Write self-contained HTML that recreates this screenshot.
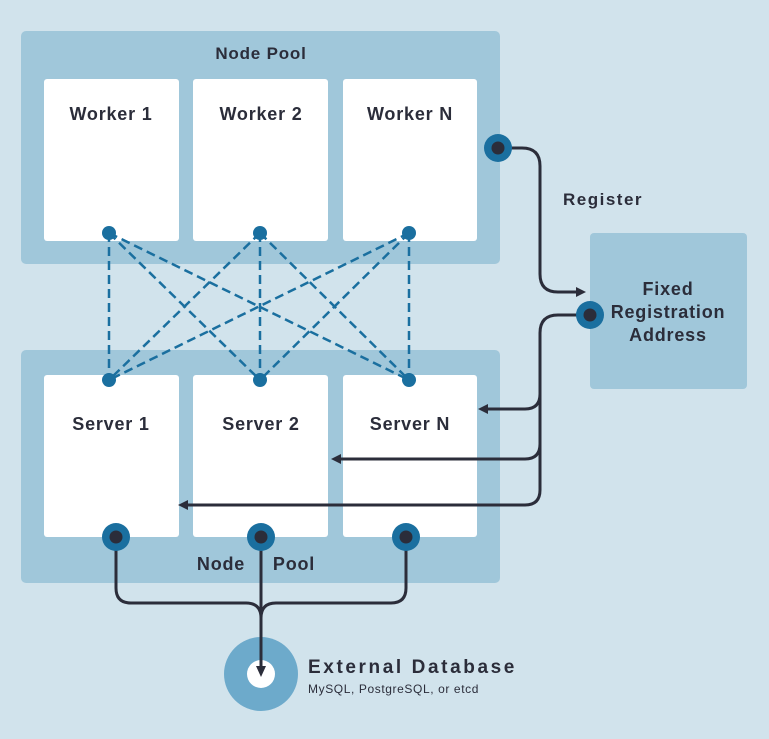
<!DOCTYPE html>
<html><head><meta charset="utf-8"><style>
html,body{margin:0;padding:0;background:#d1e3ec;}
svg{display:block}
text{font-family:"Liberation Sans",sans-serif;font-weight:bold;fill:#2b2d3a;letter-spacing:0.8px}
</style></head><body>
<svg width="769" height="739" viewBox="0 0 769 739" xmlns="http://www.w3.org/2000/svg">
<rect width="769" height="739" fill="#d1e3ec"/>
<rect x="21" y="31" width="479" height="233" rx="5" fill="#a0c7da"/>
<rect x="21" y="350" width="479" height="233" rx="5" fill="#a0c7da"/>
<rect x="590" y="233" width="157" height="156" rx="4" fill="#a0c7da"/>
<g fill="#fff">
<rect x="44" y="79" width="135" height="162" rx="3"/>
<rect x="193" y="79" width="135" height="162" rx="3"/>
<rect x="343" y="79" width="134" height="162" rx="3"/>
<rect x="44" y="375" width="135" height="162" rx="3"/>
<rect x="193" y="375" width="135" height="162" rx="3"/>
<rect x="343" y="375" width="134" height="162" rx="3"/>
</g>
<text x="261" y="59" font-size="17" text-anchor="middle">Node Pool</text>
<text x="111" y="120" font-size="18" text-anchor="middle">Worker 1</text>
<text x="261" y="120" font-size="18" text-anchor="middle">Worker 2</text>
<text x="410" y="120" font-size="18" text-anchor="middle">Worker N</text>
<text x="111" y="430" font-size="18" text-anchor="middle">Server 1</text>
<text x="261" y="430" font-size="18" text-anchor="middle">Server 2</text>
<text x="410" y="430" font-size="18" text-anchor="middle">Server N</text>
<text x="221" y="570" font-size="18" text-anchor="middle">Node</text>
<text x="294" y="570" font-size="18" text-anchor="middle">Pool</text>
<text x="603" y="205" font-size="17" text-anchor="middle" style="letter-spacing:1.5px">Register</text>
<text x="668" y="295" font-size="18" text-anchor="middle">Fixed</text>
<text x="668" y="318" font-size="18" text-anchor="middle">Registration</text>
<text x="668" y="341" font-size="18" text-anchor="middle">Address</text>
<text x="308" y="673" font-size="19" style="letter-spacing:2.6px">External Database</text>
<text x="308" y="693" font-size="12" style="font-weight:normal;letter-spacing:0.6px">MySQL, PostgreSQL, or etcd</text>
<g stroke="#1a6f9f" stroke-width="2.5" stroke-dasharray="9,5" fill="none">
<line x1="109" y1="233" x2="109" y2="380"/><line x1="109" y1="233" x2="260" y2="380"/><line x1="109" y1="233" x2="409" y2="380"/>
<line x1="260" y1="233" x2="109" y2="380"/><line x1="260" y1="233" x2="260" y2="380"/><line x1="260" y1="233" x2="409" y2="380"/>
<line x1="409" y1="233" x2="109" y2="380"/><line x1="409" y1="233" x2="260" y2="380"/><line x1="409" y1="233" x2="409" y2="380"/>
</g>
<g fill="#1a6f9f">
<circle cx="109" cy="233" r="7"/><circle cx="260" cy="233" r="7"/><circle cx="409" cy="233" r="7"/>
<circle cx="109" cy="380" r="7"/><circle cx="260" cy="380" r="7"/><circle cx="409" cy="380" r="7"/>
</g>
<circle cx="261" cy="674" r="37" fill="#6daacb"/>
<circle cx="261" cy="674" r="14" fill="#fff"/>
<g stroke="#2b2d3a" stroke-width="3" fill="none">
<path d="M498 148 H522 Q540 148 540 166 V274 Q540 292 558 292 H578"/>
<path d="M590 315 H558 Q540 315 540 333 V490 Q540 505 525 505 H186"/>
<path d="M540 394 Q540 409 525 409 H486"/>
<path d="M540 444 Q540 459 525 459 H339"/>
<path d="M116 537 V588 Q116 603 131 603 H246 Q261 603 261 618"/>
<path d="M406 537 V588 Q406 603 391 603 H276 Q261 603 261 618"/>
<path d="M261 537 V668"/>
</g>
<g fill="#2b2d3a">
<polygon points="586,292 576,287 576,297"/>
<polygon points="478,409 488,404 488,414"/>
<polygon points="331,459 341,454 341,464"/>
<polygon points="178,505 188,500 188,510"/>
<polygon points="261,677 256,666 266,666"/>
</g>
<g>
<circle cx="498" cy="148" r="14" fill="#1a6f9f"/><circle cx="498" cy="148" r="6.5" fill="#2b2d3a"/>
<circle cx="590" cy="315" r="14" fill="#1a6f9f"/><circle cx="590" cy="315" r="6.5" fill="#2b2d3a"/>
<circle cx="116" cy="537" r="14" fill="#1a6f9f"/><circle cx="116" cy="537" r="6.5" fill="#2b2d3a"/>
<circle cx="261" cy="537" r="14" fill="#1a6f9f"/><circle cx="261" cy="537" r="6.5" fill="#2b2d3a"/>
<circle cx="406" cy="537" r="14" fill="#1a6f9f"/><circle cx="406" cy="537" r="6.5" fill="#2b2d3a"/>
</g>
</svg>
</body></html>
